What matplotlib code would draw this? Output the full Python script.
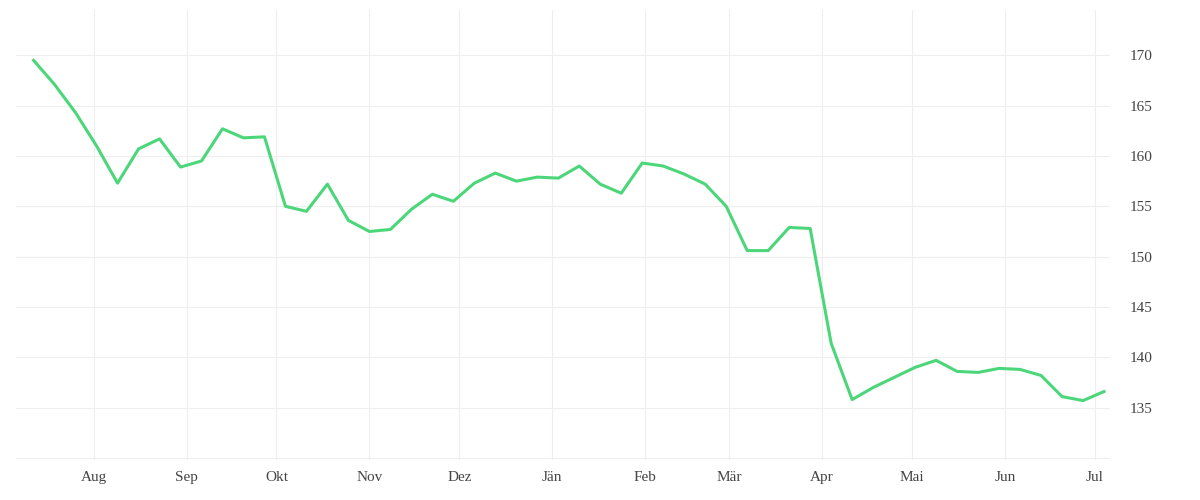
import matplotlib
matplotlib.use("Agg")
import matplotlib.pyplot as plt
import numpy as np
import datetime as dt

start = dt.date(2022, 7, 12)
values = [169.5, 167.1, 164.3, 161.0, 157.3, 160.7, 161.7, 158.9, 159.5, 162.7,
          161.8, 161.9, 155.0, 154.5, 157.2, 153.6, 152.5, 152.7, 154.7, 156.2,
          155.5, 157.3, 158.3, 157.5, 157.9, 157.8, 159.0, 157.2, 156.3, 159.3,
          159.0, 158.2, 157.2, 155.0, 150.6, 150.6, 152.9, 152.8, 141.4, 135.8,
          137.0, 138.0, 139.0, 139.7, 138.6, 138.5, 138.9, 138.8, 138.2, 136.1,
          135.7, 136.6]
dates = [start + dt.timedelta(days=7 * i) for i in range(len(values))]
month_labels = ["Aug", "Sep", "Okt", "Nov", "Dez", "Jän", "Feb", "Mär", "Apr", "Mai", "Jun", "Jul"]
month_ticks = [dt.date(2022 + (m > 12), (m - 1) % 12 + 1, 1) for m in range(8, 20)]

plt.rcParams['font.family'] = ['Liberation Serif', 'DejaVu Serif']
fig = plt.figure(figsize=(12, 5), dpi=100)
ax = fig.add_axes([0.013, 0.08, 0.912, 0.9])

ax.plot(dates, values, color='#4cd67a', lw=2.2)
ax.set_xlim(dt.date(2022, 7, 6), dt.date(2023, 7, 6))
ax.set_ylim(129.8, 174.5)
ax.set_xticks(month_ticks)
ax.set_xticklabels(month_labels)
ax.set_yticks(np.arange(135, 171, 5))
ax.axhline(130, color='#eeeeee', lw=0.8, zorder=0)
ax.yaxis.tick_right()
ax.grid(True, color='#eeeeee', lw=0.8)
ax.set_axisbelow(True)
for s in ax.spines.values():
    s.set_visible(False)
ax.tick_params(length=0, labelsize=11, colors='#444444', pad=8)
ax.tick_params(axis='y', pad=14)

fig.savefig("out.png", dpi=100, facecolor='white')
